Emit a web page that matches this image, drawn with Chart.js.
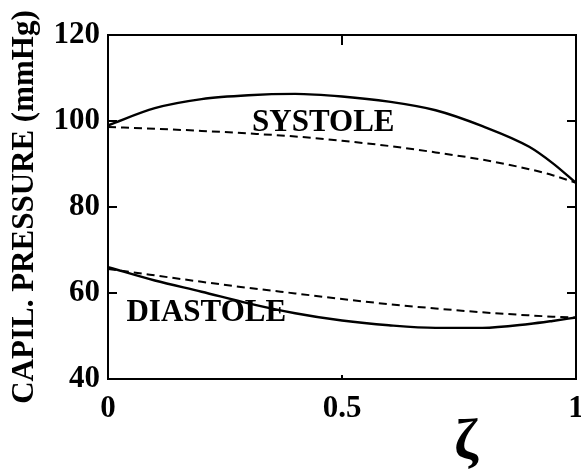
<!DOCTYPE html>
<html>
<head>
<meta charset="utf-8">
<script src="https://cdn.jsdelivr.net/npm/chart.js@4"></script>
<style>
  html, body { margin: 0; padding: 0; background: #fff; }
  #wrap { width: 581px; height: 473px; }
</style>
</head>
<body>
<div id="wrap"><canvas id="pressureChart" width="581" height="473"></canvas></div>
<script>
// values (zeta from 0 to 1)
const zeta = [0, 0.1, 0.2, 0.3, 0.4, 0.5, 0.6, 0.7, 0.8, 0.9, 0.95, 1];
const systoleSolid  = [99, 103, 105.1, 106, 106.3, 105.7, 104.5, 102.5, 98.8, 94, 90.2, 85.6];
const systoleDashed = [98.6, 98.2, 97.7, 97.1, 96.4, 95.4, 94.2, 92.7, 91, 88.8, 87.4, 85.6];
const diastoleSolid  = [66, 62.9, 60.3, 57.6, 55.3, 53.6, 52.5, 51.9, 51.9, 52.8, 53.5, 54.3];
const diastoleDashed = [65.6, 64.1, 62.6, 61.2, 59.9, 58.6, 57.4, 56.4, 55.5, 54.8, 54.5, 54.3];
const xTicks = [0, 0.5, 1];
const yTicks = [40, 60, 80, 100, 120];

const serif = '"Liberation Serif", "Times New Roman", serif';

function pts(ys) {
    return zeta.map((x, i) => ({ x: x, y: ys[i] }));
}

// frame, inward ticks and the text labels inside the plot
const framePlugin = {
    id: 'frame',
    afterDraw(chart) {
        const { ctx, chartArea: a, scales } = chart;
        ctx.save();
        ctx.strokeStyle = '#000';
        ctx.lineWidth = 2;
        ctx.strokeRect(a.left, a.top, a.right - a.left, a.bottom - a.top);
        ctx.beginPath();
        yTicks.slice(1, -1).forEach(v => {
            const y = scales.y.getPixelForValue(v);
            ctx.moveTo(a.left, y); ctx.lineTo(a.left + 9, y);
            ctx.moveTo(a.right, y); ctx.lineTo(a.right - 9, y);
        });
        const xm = scales.x.getPixelForValue(0.5);
        ctx.moveTo(xm, a.top); ctx.lineTo(xm, a.top + 10);
        ctx.moveTo(xm, a.bottom); ctx.lineTo(xm, a.bottom - 4);
        ctx.stroke();

        ctx.fillStyle = '#000';
        ctx.textAlign = 'center';
        ctx.textBaseline = 'middle';
        ctx.font = 'bold 31px ' + serif;
        ctx.fillText('SYSTOLE', scales.x.getPixelForValue(0.46), scales.y.getPixelForValue(99.5));
        ctx.fillText('DIASTOLE', scales.x.getPixelForValue(0.21), scales.y.getPixelForValue(55.4));
        ctx.font = 'bold 58px ' + serif;
        ctx.fillText('ζ', scales.x.getPixelForValue(0.765), a.bottom + 64);
        ctx.restore();
    }
};

const ctx = document.getElementById('pressureChart').getContext('2d');
new Chart(ctx, {
    type: 'line',
    data: {
        datasets: [
            { data: pts(systoleSolid), borderColor: '#000', borderWidth: 2.4, pointRadius: 0, tension: 0.4, cubicInterpolationMode: 'monotone' },
            { data: pts(systoleDashed), borderColor: '#000', borderWidth: 2, borderDash: [8, 5], pointRadius: 0, tension: 0.4, cubicInterpolationMode: 'monotone' },
            { data: pts(diastoleSolid), borderColor: '#000', borderWidth: 2.4, pointRadius: 0, tension: 0.4, cubicInterpolationMode: 'monotone' },
            { data: pts(diastoleDashed), borderColor: '#000', borderWidth: 2, borderDash: [8, 5], pointRadius: 0, tension: 0.4, cubicInterpolationMode: 'monotone' }
        ]
    },
    options: {
        responsive: false,
        animation: false,
        events: [],
        layout: { padding: { top: 35, right: 5, left: 0, bottom: 0 } },
        plugins: { legend: { display: false }, tooltip: { enabled: false } },
        scales: {
            x: {
                type: 'linear',
                min: 0,
                max: 1,
                grid: { display: false, drawTicks: false },
                border: { display: false },
                afterBuildTicks: s => { s.ticks = xTicks.map(v => ({ value: v })); },
                afterFit: s => { s.height = 94; s.paddingLeft = 0; s.paddingRight = 0; },
                ticks: {
                    color: '#000',
                    padding: 11,
                    maxRotation: 0,
                    font: { family: serif, size: 31, weight: 'bold' },
                    callback: v => String(v)
                }
            },
            y: {
                min: 40,
                max: 120,
                grid: { display: false, drawTicks: false },
                border: { display: false },
                afterBuildTicks: s => { s.ticks = yTicks.map(v => ({ value: v })); },
                afterFit: s => { s.width = 108; s.paddingTop = 0; s.paddingBottom = 0; },
                title: {
                    display: true,
                    text: 'CAPIL. PRESSURE (mmHg)',
                    color: '#000',
                    padding: { top: 6, bottom: 0 },
                    font: { family: serif, size: 31, weight: 'bold' }
                },
                ticks: {
                    color: '#000',
                    padding: 8,
                    font: { family: serif, size: 31, weight: 'bold' }
                }
            }
        }
    },
    plugins: [framePlugin]
});
</script>
</body>
</html>
